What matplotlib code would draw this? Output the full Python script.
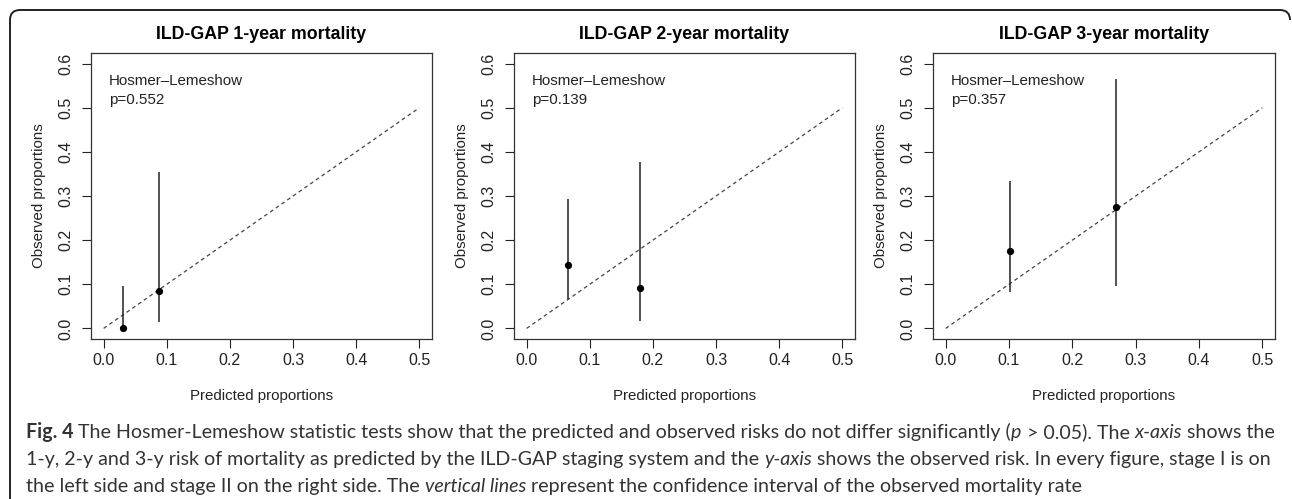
import numpy as np
import matplotlib
matplotlib.use('Agg')
import matplotlib.pyplot as plt
from matplotlib.path import Path
from matplotlib.patches import PathPatch

plt.rcParams['font.family'] = ['Liberation Sans', 'DejaVu Sans']

# Data (stage I, stage II)
titles = ['ILD-GAP 1-year mortality', 'ILD-GAP 2-year mortality', 'ILD-GAP 3-year mortality']
p_values = ['0.552', '0.139', '0.357']

pred_1y = [0.031, 0.087]
obs_1y = [0.000, 0.084]
lo_1y = [0.000, 0.015]
hi_1y = [0.095, 0.355]

pred_2y = [0.066, 0.180]
obs_2y = [0.143, 0.091]
lo_2y = [0.066, 0.016]
hi_2y = [0.294, 0.377]

pred_3y = [0.102, 0.269]
obs_3y = [0.176, 0.274]
lo_3y = [0.083, 0.097]
hi_3y = [0.335, 0.566]

x_ticks = [0.0, 0.1, 0.2, 0.3, 0.4, 0.5]
y_ticks = [0.0, 0.1, 0.2, 0.3, 0.4, 0.5, 0.6]

panels = [
    (pred_1y, obs_1y, lo_1y, hi_1y),
    (pred_2y, obs_2y, lo_2y, hi_2y),
    (pred_3y, obs_3y, lo_3y, hi_3y),
]

W, H = 1292, 499
fig = plt.figure(figsize=(W / 100, H / 100), dpi=100)

# axes boxes in pixels (left, right), shared top/bottom
box_x = [(91, 432), (514, 855), (933, 1275)]
top_px, bot_px = 53, 339
ink = '#222222'

for i, (pred, obs, lo, hi) in enumerate(panels):
    l, r = box_x[i]
    ax = fig.add_axes([l / W, (H - bot_px) / H, (r - l) / W, (bot_px - top_px) / H])
    ax.plot([0, 0.5], [0, 0.5], color='#444444', lw=0.9, linestyle=(0, (3, 2.6)))
    ax.vlines(pred, lo, hi, color=ink, lw=1.1)
    ax.plot(pred, obs, 'o', color='black', markersize=4.2)
    ax.set_xlim(-0.02, 0.52)
    ax.set_ylim(-0.024, 0.624)
    ax.set_xticks(x_ticks)
    ax.set_yticks(y_ticks)
    ax.set_xticklabels(['%.1f' % v for v in x_ticks])
    ax.set_yticklabels(['%.1f' % v for v in y_ticks], rotation=90, va='center')
    ax.tick_params(axis='both', direction='out', length=6.5, width=0.8, color=ink,
                   labelsize=11.5, labelcolor=ink)
    ax.tick_params(axis='x', pad=3.5)
    ax.tick_params(axis='y', pad=6)
    for s in ax.spines.values():
        s.set_color('#333333')
        s.set_linewidth(0.9)
    ax.set_xlabel('Predicted proportions', fontsize=10.8, color=ink, labelpad=15)
    ax.set_ylabel('Observed proportions', fontsize=10.8, color=ink, labelpad=9)
    ax.set_title(titles[i], fontsize=12.8, fontweight='bold', color='black', pad=10)
    ax.text(0.053, 0.925, 'Hosmer\u2013Lemeshow\np=' + p_values[i], transform=ax.transAxes,
            ha='left', va='top', fontsize=10.9, color=ink, linespacing=1.4)

# open frame: left side, top edge, rounded top corners
frame = Path([(10, 0), (10, H - 20), (10, H - 10), (20, H - 10), (1280, H - 10),
              (1290, H - 10), (1290, H - 20)],
             [Path.MOVETO, Path.LINETO, Path.CURVE3, Path.CURVE3, Path.LINETO,
              Path.CURVE3, Path.CURVE3])
fig.patches.append(PathPatch(frame, transform=None, fill=False, lw=1.4, edgecolor='#222222'))

# caption with mixed bold / italic runs
cap_font = ['Lato', 'DejaVu Sans']
cap_color = '#333333'
caption = [
    [('Fig. 4', 'bold'), ('The Hosmer-Lemeshow statistic tests show that the predicted and observed risks do not differ significantly (', 'normal'),
     ('p', 'italic'), ('> 0.05). The', 'normal'), ('x-axis', 'italic'), ('shows the', 'normal')],
    [('1-y, 2-y and 3-y risk of mortality as predicted by the ILD-GAP staging system and the', 'normal'),
     ('y-axis', 'italic'), ('shows the observed risk. In every figure, stage I is on', 'normal')],
    [('the left side and stage II on the right side. The', 'normal'), ('vertical lines', 'italic'),
     ('represent the confidence interval of the observed mortality rate', 'normal')],
]

renderer = fig.canvas.get_renderer()


def style_kw(st):
    if st == 'bold':
        return {'fontweight': 'bold'}
    if st == 'italic':
        return {'fontstyle': 'italic'}
    return {}


def text_width(s, st, size):
    t = fig.text(0, 0, s, fontsize=size, family=cap_font, **style_kw(st))
    w = t.get_window_extent(renderer).width
    t.remove()
    return w


def glued(parts, j):
    # no space between "(" and the italic p
    return parts[j][0].endswith('(') and parts[j + 1][0] == 'p'


def line_width(parts, size):
    sp = text_width('a a', 'normal', size) - text_width('aa', 'normal', size)
    total = 0
    for j, (s, st) in enumerate(parts):
        total += text_width(s, st, size)
        if j < len(parts) - 1 and not glued(parts, j):
            total += sp
    return total


size = 12.0
size = size * 1244 / line_width(caption[0], size)

sp = text_width('a a', 'normal', size) - text_width('aa', 'normal', size)
line_y = [438, 465, 492]  # baselines in pixels from top
for parts, yy in zip(caption, line_y):
    x = 26
    for j, (s, st) in enumerate(parts):
        t = fig.text(x / W, (H - yy) / H, s, fontsize=size, family=cap_font, color=cap_color,
                     va='baseline', ha='left', **style_kw(st))
        x += t.get_window_extent(renderer).width
        if j < len(parts) - 1 and not glued(parts, j):
            x += sp

fig.savefig('out.png', dpi=100)
